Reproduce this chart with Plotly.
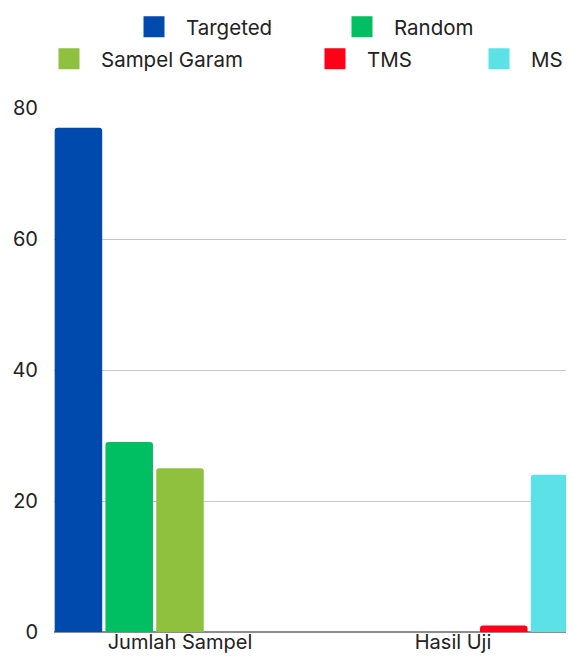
import plotly.graph_objects as go

categories = ["Jumlah Sampel", "Hasil Uji"]
series_names = ["Targeted", "Random", "Sampel Garam", "TMS", "MS"]
targeted = [77, 0]
random_ = [29, 0]
sampel_garam = [25, 0]
tms = [0, 1]
ms = [0, 24]
y_ticks = [0, 20, 40, 60, 80]

values = [targeted, random_, sampel_garam, tms, ms]
colors = ["#004AAD", "#00BF63", "#8FC13F", "#FF0018", "#5CE1E6"]

FONT = "Inter"
# page has an 8px body margin, so keep the figure inside the window
W, H = 558, 648

# legend slots (swatch centre x, row centre y, figure px) - one legend per entry
legend_pos = [(146, 19), (354, 19), (61, 51), (327, 51), (491, 51)]
ITEMW = 54

fig = go.Figure()

for name, vals, col in zip(series_names, values, colors):
    fig.add_trace(go.Bar(
        x=categories, y=vals, name=name,
        marker=dict(color=col, line=dict(width=0)),
        showlegend=False,
    ))

legend_layouts = {}
for i, (name, col) in enumerate(zip(series_names, colors)):
    key = "legend" if i == 0 else f"legend{i + 1}"
    # legend proxy with a bigger square swatch
    fig.add_trace(go.Scatter(
        x=[None], y=[None], mode="markers", name=name,
        marker=dict(symbol="square", size=16, color=col, line=dict(width=5, color=col)),
        legend=key, showlegend=True,
    ))
    cx, cy = legend_pos[i]
    legend_layouts[key] = dict(
        xref="container", yref="container",
        x=(cx - (ITEMW / 2 + 5)) / W, y=1 - cy / H,
        xanchor="left", yanchor="middle",
        orientation="h", itemwidth=ITEMW,
        bgcolor="rgba(0,0,0,0)", borderwidth=0,
        font=dict(family=FONT, size=20.5, color="#222222"),
    )

fig.update_layout(
    width=W, height=H,
    margin=dict(l=46, r=0, t=100, b=24),
    paper_bgcolor="white", plot_bgcolor="white",
    barmode="group", bargap=0.07, bargroupgap=0.064,
    barcornerradius=3,
    font=dict(family=FONT, size=20, color="#222222"),
    xaxis=dict(
        range=[-0.4615, 1.4139], showgrid=False, showline=False,
        ticks="", tickfont=dict(size=20), ticklabelstandoff=-4,
        automargin=False,
    ),
    yaxis=dict(
        range=[0, 80], tickvals=y_ticks, showgrid=True,
        gridcolor="#c8c8c8", gridwidth=1,
        zeroline=True, zerolinecolor="#8c8c8c", zerolinewidth=1.5,
        showline=False, ticks="", tickfont=dict(size=20),
        ticklabelstandoff=15, automargin=False,
    ),
    **legend_layouts,
)

fig.write_html("out.html")
